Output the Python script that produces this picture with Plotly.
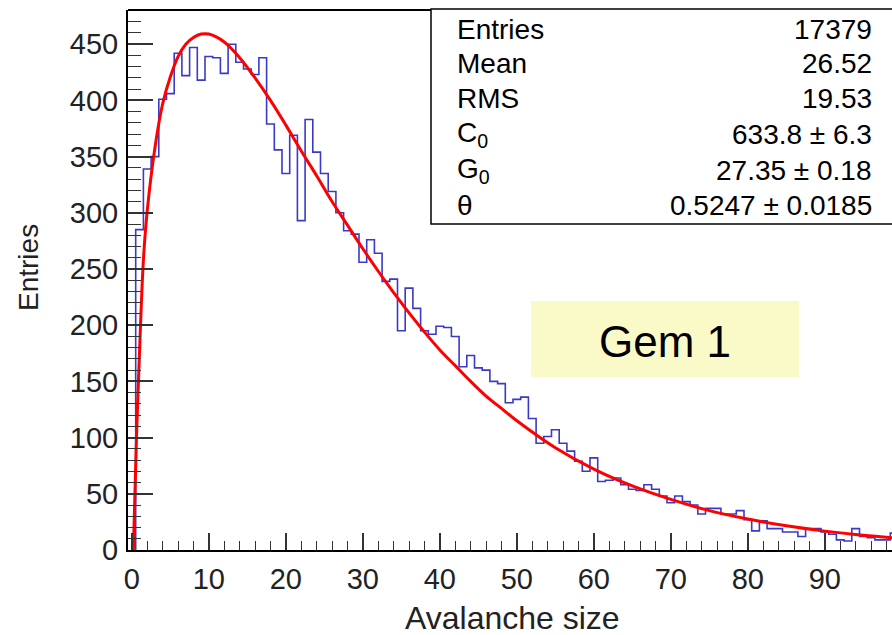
import plotly.graph_objects as go

# ---------------- data ----------------
bin_centers = list(range(100))  # bins of width 1, centred on integers
counts = [
    0, 285, 339, 350, 401, 406, 442, 422, 447, 418,
    439, 438, 424, 450, 434, 428, 423, 438, 379, 356,
    335, 369, 293, 383, 354, 335, 319, 300, 284, 281,
    256, 276, 264, 239, 241, 195, 233, 215, 195, 192,
    199, 198, 190, 163, 173, 162, 160, 150, 148, 131,
    134, 136, 117, 95, 101, 107, 95, 88, 79, 70,
    82, 61, 62, 64, 58, 54, 53, 58, 54, 48,
    42, 48, 43, 40, 32, 37, 37, 32, 32, 35,
    27, 17, 26, 19, 19, 16, 16, 12, 19, 19,
    16, 14, 9, 8, 19, 12, 11, 9, 9, 15,
]

fit_x = [0.2, 0.6, 0.9, 1.5, 2, 3, 4, 5, 6, 7, 8, 9, 10, 12, 14, 16, 18, 20,
         22, 24, 26, 28, 30, 32, 34, 36, 38, 40, 42, 44, 46, 48, 50,
         55, 60, 65, 70, 75, 80, 85, 90, 95, 100]
fit_y = [0, 100, 158, 258, 302, 358, 397, 421, 439, 450, 456, 459, 459, 452,
         438, 420, 400, 378, 355, 333, 310, 289, 268, 248, 229, 211, 194,
         178, 164, 150, 137, 126, 115, 91, 72, 57, 45, 35, 27.5, 21.5,
         16.8, 13.1, 10.2]

stat_labels = ["Entries", "Mean", "RMS", "C<sub>0</sub>", "G<sub>0</sub>", "θ"]
stat_values = ["17379", "26.52", "19.53", "633.8 ± 6.3", "27.35 ± 0.18",
               "0.5247 ± 0.0185"]

x_title = "Avalanche size"
y_title = "Entries"
label_text = "Gem 1"

# ---------------- layout helpers ----------------
W, H = 892, 635
ML, MR, MT, MB = 128, 0, 10, 85
PW = W - ML - MR
PH = H - MT - MB


def px_x(p):
    return (p - ML) / PW


def px_y(p):
    return 1 - (p - MT) / PH


FONT = "Liberation Sans, Arial, Helvetica, sans-serif"

fig = go.Figure()

fig.add_trace(go.Scatter(
    x=bin_centers, y=counts, mode="lines", line_shape="hvh",
    line=dict(color="#3a3ac8", width=1.6), hoverinfo="skip",
    showlegend=False,
))
fig.add_trace(go.Scatter(
    x=fit_x, y=fit_y, mode="lines", line_shape="spline",
    line=dict(color="#ff0000", width=3), hoverinfo="skip",
    showlegend=False,
))

shapes = []
# top frame line
shapes.append(dict(type="line", xref="paper", yref="paper", x0=0, x1=1,
                   y0=1, y1=1, line=dict(color="black", width=2)))
# stats box
shapes.append(dict(type="rect", xref="paper", yref="paper",
                   x0=px_x(431), x1=px_x(905), y0=px_y(224), y1=px_y(9),
                   line=dict(color="black", width=1.5), fillcolor="white",
                   layer="above"))
# Gem 1 box
shapes.append(dict(type="rect", xref="paper", yref="paper",
                   x0=px_x(531), x1=px_x(799), y0=px_y(377), y1=px_y(301),
                   line=dict(width=0), fillcolor="rgb(250,250,200)",
                   layer="below"))

annotations = []
row_y = [29, 64, 99, 134, 170, 205]
for lab, val, ry in zip(stat_labels, stat_values, row_y):
    annotations.append(dict(text=lab, xref="paper", yref="paper",
                            x=px_x(455), y=px_y(ry), xanchor="left",
                            yanchor="middle", showarrow=False,
                            font=dict(family=FONT, size=28, color="black")))
    annotations.append(dict(text=val, xref="paper", yref="paper",
                            x=px_x(874), y=px_y(ry), xanchor="right",
                            yanchor="middle", showarrow=False,
                            font=dict(family=FONT, size=28, color="black")))

annotations.append(dict(text=label_text, xref="paper", yref="paper",
                        x=px_x(665), y=px_y(341), xanchor="center",
                        yanchor="middle", showarrow=False,
                        font=dict(family=FONT, size=44, color="black")))
annotations.append(dict(text=x_title, xref="paper", yref="paper",
                        x=px_x(512), y=px_y(618), xanchor="center",
                        yanchor="middle", showarrow=False,
                        font=dict(family=FONT, size=32, color="#222")))
annotations.append(dict(text=y_title, xref="paper", yref="paper",
                        x=px_x(28), y=px_y(268), xanchor="center",
                        yanchor="middle", showarrow=False, textangle=-90,
                        font=dict(family=FONT, size=28, color="#222")))

fig.update_layout(
    width=W, height=H,
    margin=dict(l=ML, r=MR, t=MT, b=MB, pad=0),
    paper_bgcolor="white", plot_bgcolor="white",
    shapes=shapes, annotations=annotations,
    xaxis=dict(
        range=[-0.5, -0.5 + PW / 7.7], tick0=0, dtick=10,
        showgrid=False, zeroline=False,
        showline=True, linecolor="black", linewidth=2,
        ticks="inside", ticklen=17, tickwidth=1.5, tickcolor="#333",
        minor=dict(dtick=2, ticks="inside", ticklen=9, tickwidth=1.2,
                   tickcolor="#333", showgrid=False),
        tickfont=dict(family=FONT, size=29, color="#222"),
        ticklabelstandoff=2,
    ),
    yaxis=dict(
        range=[0, PH / 1.124], tick0=0, dtick=50,
        showgrid=False, zeroline=False,
        showline=True, linecolor="black", linewidth=2,
        ticks="inside", ticklen=25, tickwidth=1.5, tickcolor="#333",
        minor=dict(dtick=10, ticks="inside", ticklen=13, tickwidth=1.2,
                   tickcolor="#333", showgrid=False),
        tickfont=dict(family=FONT, size=29, color="#222"),
        ticklabelstandoff=2,
    ),
)

fig.write_html("out.html")
